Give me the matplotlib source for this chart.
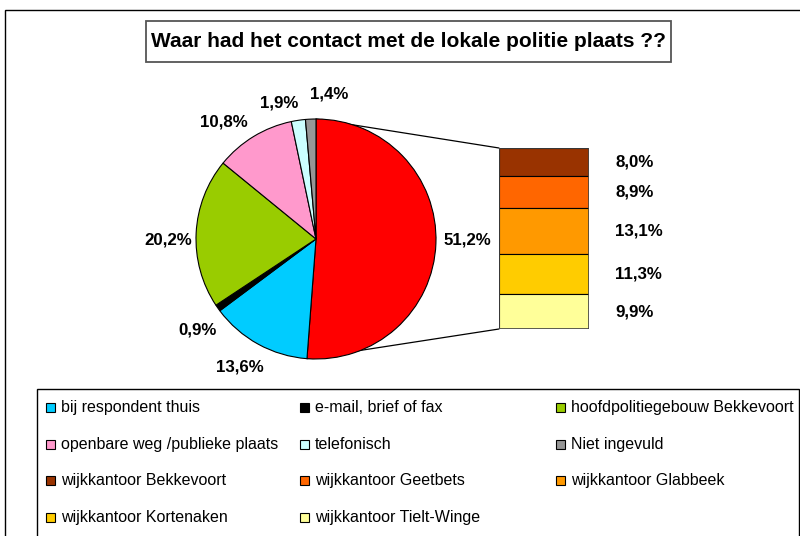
import matplotlib.pyplot as plt
import numpy as np
from matplotlib.patches import Rectangle, ConnectionPatch

plt.rcParams['font.family'] = ['Liberation Sans', 'DejaVu Sans']

title = "Waar had het contact met de lokale politie plaats ??"

# pie slices, clockwise from 12 o'clock (the red one is split into the bar)
pie_labels = ["wijkkantoren", "bij respondent thuis", "e-mail, brief of fax",
              "hoofdpolitiegebouw Bekkevoort", "openbare weg /publieke plaats",
              "telefonisch", "Niet ingevuld"]
pie_values = [51.2, 13.6, 0.9, 20.2, 10.8, 1.9, 1.4]
pie_colors = ["#FF0000", "#00CCFF", "#000000", "#99CC00", "#FF99CC", "#CCFFFF", "#969696"]

# bar of pie, top to bottom
bar_labels = ["wijkkantoor Bekkevoort", "wijkkantoor Geetbets", "wijkkantoor Glabbeek",
              "wijkkantoor Kortenaken", "wijkkantoor Tielt-Winge"]
bar_values = [8.0, 8.9, 13.1, 11.3, 9.9]
bar_colors = ["#993300", "#FF6600", "#FF9900", "#FFCC00", "#FFFF99"]

# legend order as in the chart
legend_labels = pie_labels[1:] + bar_labels
legend_colors = pie_colors[1:] + bar_colors

W, H = 800, 536
fig = plt.figure(figsize=(8, 5.36), dpi=100)
ax = fig.add_axes([0, 0, 1, 1])

def fmt(v):
    return f"{v:.1f}%".replace(".", ",")

cx, cy, r = 316, H - 239, 120
wedges, texts, autotexts = ax.pie(
    pie_values, colors=pie_colors, startangle=90, counterclock=False,
    center=(cx, cy), radius=r, autopct=fmt, pctdistance=1.23,
    wedgeprops=dict(edgecolor="black", linewidth=0.8),
    textprops=dict(fontsize=12.2, fontweight="bold", color="black"))

# label spots as Excel laid them out (pixels from top-left)
label_xy = [(467, 240), (240, 367), (198, 330), (168, 240), (224, 122), (279, 103), (329, 94)]
for t, (lx, ly) in zip(autotexts, label_xy):
    t.set_position((lx, H - ly))
    t.set_color("black")

ax.set_xlim(0, W)
ax.set_ylim(0, H)
ax.set_aspect("auto")
ax.axis("off")

# outer frame, title box, legend box
ax.add_patch(Rectangle((5, -20), 820, H - 10 + 20, fill=False, edgecolor="black", lw=1.0, zorder=0))
ax.add_patch(Rectangle((146, H - 62), 525, 41, fill=False, edgecolor="#555555", lw=1.3, zorder=0))
ax.text(408.5, H - 41.5, title, ha="center", va="center", fontsize=15, fontweight="bold")
ax.add_patch(Rectangle((37, -20), 762, H - 389 + 20, fill=False, edgecolor="black", lw=1.0, zorder=0))

# bar
bx = fig.add_axes([499 / W, (H - 329) / H, 90 / W, 181 / H])
bottoms = np.sum(bar_values) - np.cumsum(bar_values)
bx.bar(0, bar_values, bottom=bottoms, width=1.0, color=bar_colors,
       edgecolor="black", linewidth=0.8)
bx.set_xlim(-0.5, 0.5)
bx.set_ylim(0, np.sum(bar_values))
bx.axis("off")
for v, b in zip(bar_values, bottoms):
    bx.text(1.29, b + v / 2, fmt(v), transform=bx.get_yaxis_transform(),
            ha="left", va="center", fontsize=12.2, fontweight="bold")
bx.add_patch(Rectangle((-0.5, 0), 1, np.sum(bar_values), fill=False,
                       edgecolor="#444444", lw=1.2))

# connector lines from the red slice edges to the bar
a_end = np.deg2rad(90 - 360 * pie_values[0] / 100)
for p_pie, p_bar in [((cx, cy + r), (-0.5, np.sum(bar_values))),
                     ((cx + r * np.cos(a_end), cy + r * np.sin(a_end)), (-0.5, 0))]:
    con = ConnectionPatch(xyA=p_pie, coordsA=ax.transData, xyB=p_bar, coordsB=bx.transData,
                          color="black", lw=0.9, zorder=0)
    ax.add_artist(con)

# legend
col_x = [46, 300, 556]
row_y0, row_step = 407.5, 36.6
for i, (lab, col) in enumerate(zip(legend_labels, legend_colors)):
    x0 = col_x[i % 3]
    y0 = H - (row_y0 + row_step * (i // 3))
    ax.add_patch(Rectangle((x0, y0 - 4.5), 9, 9, facecolor=col, edgecolor="black", lw=0.8))
    ax.text(x0 + 15, y0, lab, ha="left", va="center", fontsize=11.5)

fig.savefig("out.png", dpi=100)
